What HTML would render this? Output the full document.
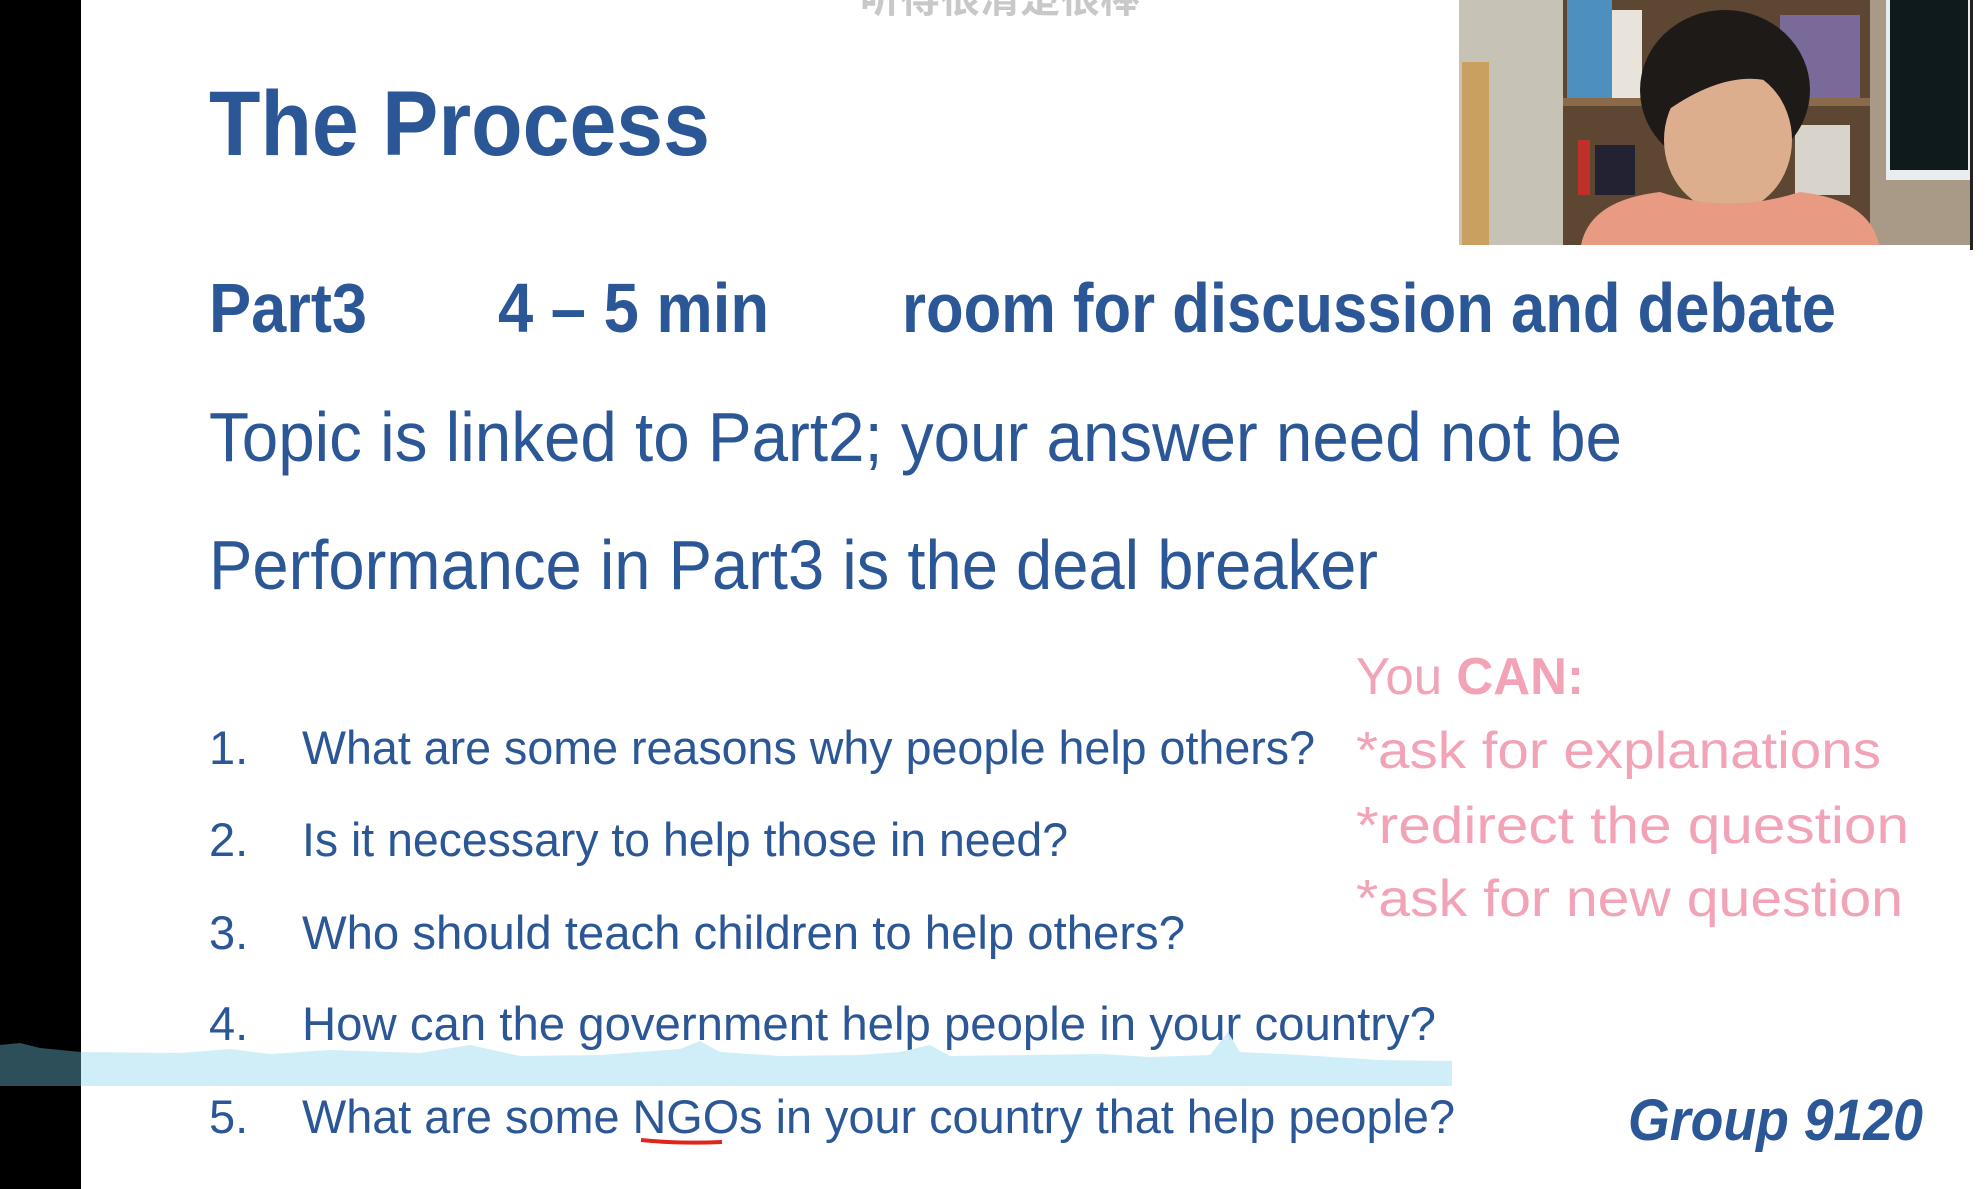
<!DOCTYPE html>
<html><head><meta charset="utf-8"><style>
html,body{margin:0;padding:0;background:#fff;}
svg{display:block;}
</style></head><body>
<svg width="1987" height="1189" viewBox="0 0 1987 1189" xmlns="http://www.w3.org/2000/svg" font-family="'Liberation Sans','Noto Sans CJK SC',sans-serif">
<rect x="0" y="0" width="1987" height="1189" fill="#ffffff"/>
<rect x="0" y="0" width="81" height="1189" fill="#000"/>
<rect x="1970" y="0" width="3" height="250" fill="#222"/>

<text x="860" y="12" font-size="40" fill="#c8c8c8" font-weight="bold">听得很清楚很棒</text>

<g fill="#2B5797">
<text x="209" y="155" font-size="92" font-weight="bold" textLength="501" lengthAdjust="spacingAndGlyphs">The Process</text>
<text x="209" y="332" font-size="70" font-weight="bold" textLength="158" lengthAdjust="spacingAndGlyphs">Part3</text>
<text x="498" y="332" font-size="70" font-weight="bold" textLength="271" lengthAdjust="spacingAndGlyphs">4 – 5 min</text>
<text x="902" y="332" font-size="70" font-weight="bold" textLength="934" lengthAdjust="spacingAndGlyphs">room for discussion and debate</text>
<text x="209" y="461" font-size="70" textLength="1413" lengthAdjust="spacingAndGlyphs">Topic is linked to Part2; your answer need not be</text>
<text x="209" y="589" font-size="70" textLength="1169" lengthAdjust="spacingAndGlyphs">Performance in Part3 is the deal breaker</text>

<text x="209" y="764" font-size="47">1.</text>
<text x="302" y="764" font-size="47" textLength="1013" lengthAdjust="spacingAndGlyphs">What are some reasons why people help others?</text>
<text x="209" y="856" font-size="47">2.</text>
<text x="302" y="856" font-size="47" textLength="766" lengthAdjust="spacingAndGlyphs">Is it necessary to help those in need?</text>
<text x="209" y="949" font-size="47">3.</text>
<text x="302" y="949" font-size="47" textLength="883" lengthAdjust="spacingAndGlyphs">Who should teach children to help others?</text>
<text x="209" y="1040" font-size="47">4.</text>
<text x="302" y="1040" font-size="47" textLength="1134" lengthAdjust="spacingAndGlyphs">How can the government help people in your country?</text>
<text x="209" y="1133" font-size="47">5.</text>
<text x="302" y="1133" font-size="47" textLength="1153" lengthAdjust="spacingAndGlyphs">What are some NGOs in your country that help people?</text>

<text x="1628" y="1140" font-size="58" font-weight="bold" font-style="italic" textLength="295" lengthAdjust="spacingAndGlyphs">Group 9120</text>
</g>

<path d="M641 1140 Q680 1144 722 1142" stroke="#e0261a" stroke-width="4" fill="none"/>

<g fill="#F2A3B5">
<text x="1356" y="694" font-size="52" textLength="228" lengthAdjust="spacingAndGlyphs">You <tspan font-weight="bold">CAN:</tspan></text>
<text x="1356" y="768" font-size="52" textLength="525" lengthAdjust="spacingAndGlyphs">*ask for explanations</text>
<text x="1356" y="843" font-size="52" textLength="553" lengthAdjust="spacingAndGlyphs">*redirect the question</text>
<text x="1356" y="916" font-size="52" textLength="547" lengthAdjust="spacingAndGlyphs">*ask for new question</text>
</g>

<path d="M81 1052 L180 1053 L230 1049 L270 1054 L330 1050 L420 1053 L470 1045 L520 1056 L600 1055 L680 1049 L700 1041 L720 1052 L780 1056 L860 1055 L900 1052 L930 1045 L950 1056 L1030 1055 L1100 1054 L1150 1057 L1210 1055 L1228 1032 L1240 1052 L1300 1055 L1380 1060 L1452 1061 L1452 1086 L81 1086 Z" fill="#CDEDF8" opacity="0.95"/>
<path d="M0 1045 L20 1043 L40 1048 L81 1052 L81 1086 L0 1086 Z" fill="#2D4F5A"/>

<g>
<rect x="1459" y="0" width="511" height="245" fill="#7d6a52"/>
<rect x="1459" y="0" width="105" height="245" fill="#c6c2b6"/>
<rect x="1462" y="62" width="27" height="183" fill="#c9a060"/>
<rect x="1563" y="0" width="307" height="245" fill="#5d4632"/>
<rect x="1567" y="0" width="45" height="98" fill="#4d8fbf"/>
<rect x="1612" y="10" width="30" height="88" fill="#e8e4dc"/>
<rect x="1780" y="15" width="80" height="83" fill="#7a6a9a"/>
<rect x="1563" y="98" width="307" height="8" fill="#8a6a48"/>
<rect x="1578" y="140" width="12" height="55" fill="#c0302a"/>
<rect x="1595" y="145" width="40" height="50" fill="#223"/>
<rect x="1795" y="125" width="55" height="70" fill="#d8d4cc"/>
<rect x="1870" y="0" width="100" height="245" fill="#a89a86"/>
<rect x="1886" y="0" width="84" height="180" fill="#e8eef0"/>
<rect x="1890" y="0" width="78" height="170" fill="#0f1a1c"/>
<ellipse cx="1725" cy="90" rx="85" ry="80" fill="#1e1a18"/>
<ellipse cx="1728" cy="140" rx="64" ry="72" fill="#dcae8e"/>
<path d="M1664 100 Q1700 40 1760 60 Q1800 80 1795 120 L1792 90 Q1740 60 1668 110 Z" fill="#1e1a18"/>
<path d="M1581 245 Q1590 200 1660 192 Q1728 215 1800 192 Q1870 200 1879 245 Z" fill="#e99a82"/>
</g>
</svg>
</body></html>
